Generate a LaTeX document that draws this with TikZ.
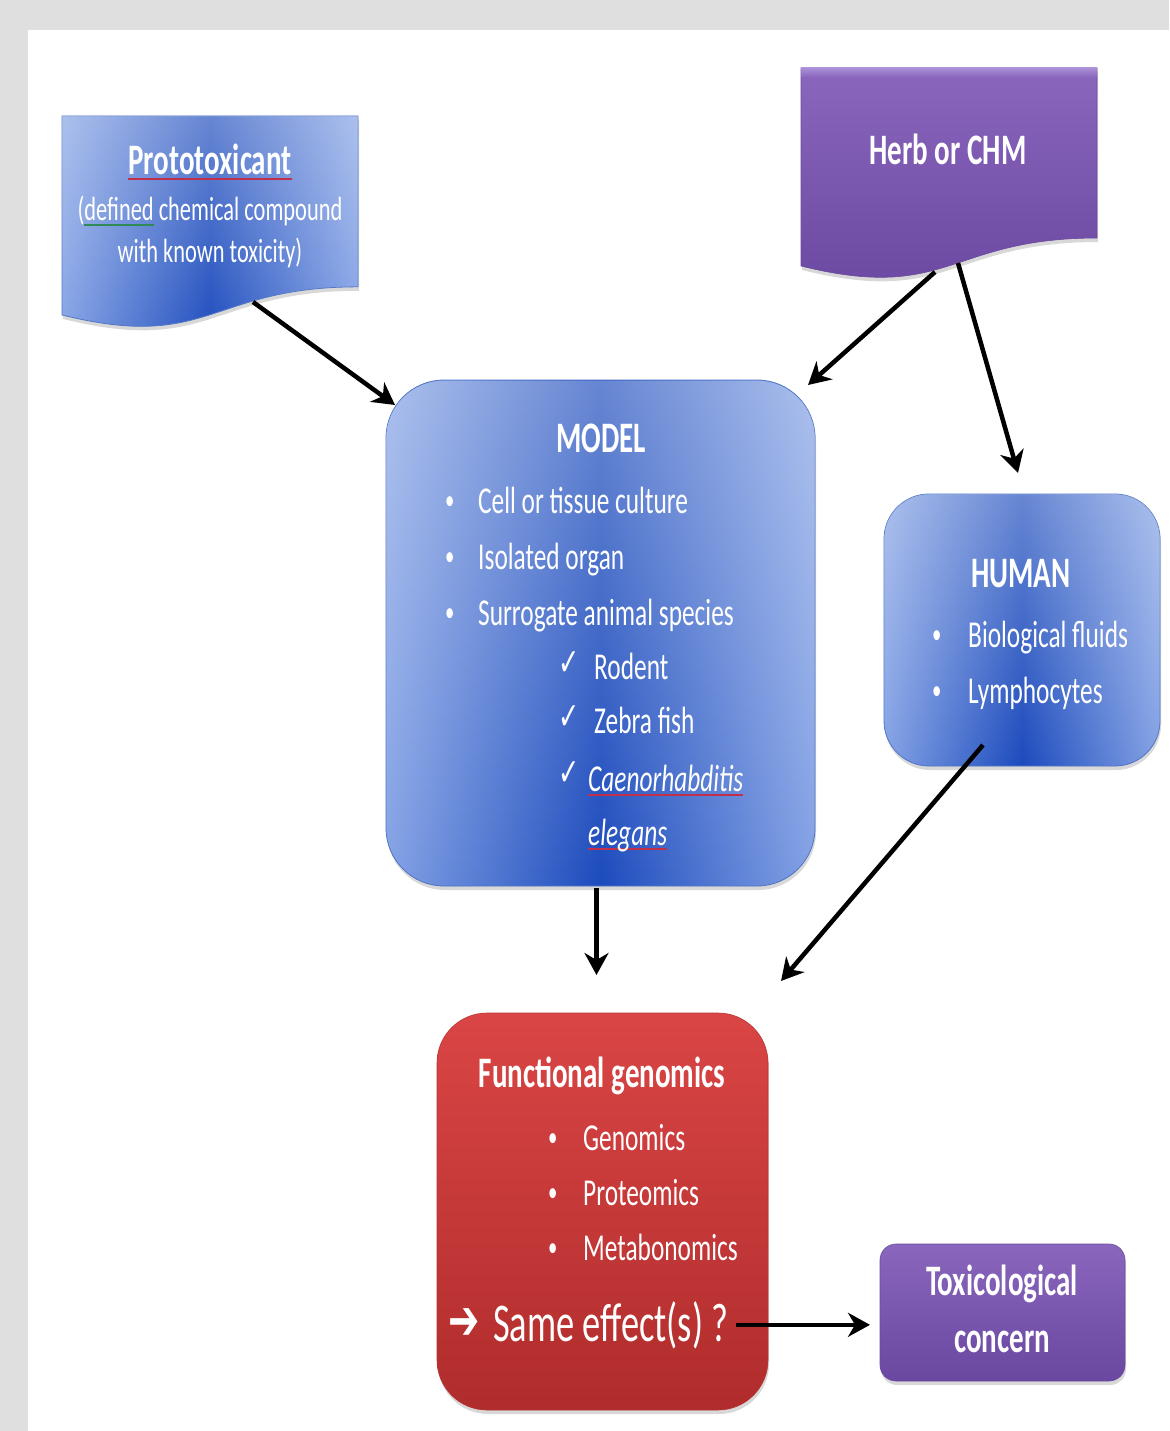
\documentclass[tikz,border=0pt]{standalone}
\usepackage{fontspec}
\setmainfont{Carlito}[FakeStretch=0.667]
\newfontfamily\djv{DejaVu Sans}[FakeStretch=0.667]
\usetikzlibrary{shadows,fadings,calc,arrows.meta}
\definecolor{bgGray}{HTML}{DFDFDF}
\definecolor{bLight}{HTML}{84A2E5}
\definecolor{bDark}{HTML}{1C4BBD}
\definecolor{bEdge}{HTML}{4F74C4}
\definecolor{pTop}{HTML}{8A66BD}
\definecolor{pBot}{HTML}{6A47A0}
\definecolor{pHi}{HTML}{AA8FD6}
\definecolor{pEdge}{HTML}{6B4A9E}
\definecolor{rTop}{HTML}{DA4545}
\definecolor{rBot}{HTML}{B02C2C}
\definecolor{rEdge}{HTML}{B83434}
\definecolor{ulred}{HTML}{C0304A}
\definecolor{ulgreen}{HTML}{2E8B57}
\newcommand\spellul[2]{\setbox0\hbox{#2}\rlap{\textcolor{#1}{\rule[-5pt]{\wd0}{1.6pt}}}\box0\relax}
\newcommand\titlefont{\bfseries\fontsize{43.5}{50}\selectfont}
\newcommand\itemfont{\fontsize{38}{44}\selectfont}
\newcommand\bulfont{\fontsize{28}{30}\selectfont}
\newcommand\subfont{\fontsize{33.6}{40}\selectfont}
\newcommand\bigfont{\fontsize{54.6}{60}\selectfont}
\newcommand\chkfont{\djv\fontsize{38}{38}\selectfont}
\begin{document}
\begin{tikzpicture}[x=1pt,y=-1pt,
  box/.style={inner sep=0pt, outer sep=0pt, anchor=north west},
  shade/.style={drop shadow={shadow xshift=1pt, shadow yshift=-4pt, opacity=0.3}},
  bluefill/.style={shade, left color=bLight, right color=bLight, middle color=bDark, draw=bEdge, line width=0.8pt,
     postaction={fill=white, fill opacity=0.33, path fading=south}},
  purplefill/.style={shade, top color=pTop, bottom color=pBot, draw=pEdge, line width=0.6pt},
  redfill/.style={shade, top color=rTop, bottom color=rBot, draw=rEdge, line width=0.6pt},
  txt/.style={text=white, inner sep=0pt, anchor=base},
  txtl/.style={text=white, inner sep=0pt, anchor=base west},
  arr/.style={line width=4.5pt, -{Stealth[length=22pt, width=24pt, inset=7pt]}}]
\useasboundingbox (0,0) rectangle (1169,1431);
\fill[bgGray] (0,0) rectangle (1169,1431);
\fill[white] (28,30) rectangle (1169,1431);

% box holders
\node[box, minimum width=296pt, minimum height=213pt] (proto) at (62,116) {};
\node[box, minimum width=296pt, minimum height=212pt] (herb) at (801,68) {};

% document shapes
\path[bluefill] (proto.north west) -- (proto.north east)
  -- ($(proto.north east)!0.802!(proto.south east)$)
  .. controls ($(proto.north)!0.802!(proto.south)$) and ($(proto.north)!1.1075!(proto.south)$)
  .. ($(proto.north west)!0.934!(proto.south west)$) -- cycle;
\path[purplefill] (herb.north west) -- (herb.north east)
  -- ($(herb.north east)!0.802!(herb.south east)$)
  .. controls ($(herb.north)!0.802!(herb.south)$) and ($(herb.north)!1.1075!(herb.south)$)
  .. ($(herb.north west)!0.934!(herb.south west)$) -- cycle;
\fill[top color=pHi, bottom color=pTop] (herb.north west) rectangle ($(herb.north east)+(0,9)$);

% rounded boxes
\node[box, bluefill, rounded corners=58pt, minimum width=429pt, minimum height=506pt] (model) at (386,380) {};
\node[box, bluefill, rounded corners=45pt, minimum width=276pt, minimum height=272pt] (human) at (884,494) {};
\node[box, redfill, rounded corners=50pt, minimum width=331pt, minimum height=397pt] (fg) at (437,1013) {};
\node[box, purplefill, rounded corners=16pt, minimum width=245pt, minimum height=137pt] (tox) at (880,1244) {};

% Prototoxicant text
\node[txt, font=\titlefont] (protoT) at (210,175) {\spellul{ulred}{Prototoxicant}};
\node[txt, font=\subfont] (protoS1) at (210,221) {(\spellul{ulgreen}{defined} chemical compound};
\node[txt, font=\subfont] (protoS2) at (210,262) {with known toxicity)};

% Herb text
\node[txt, font=\titlefont] (herbT) at (948,165) {Herb or CHM};

% MODEL text
\node[txt, font=\titlefont] (modelT) at (601,452) {MODEL};
\node[txtl, font=\bulfont] (mb1) at (445,509) {•};
\node[txtl, font=\itemfont] (mi1) at (478,513) {Cell or tissue culture};
\node[txtl, font=\bulfont] (mb2) at (445,565) {•};
\node[txtl, font=\itemfont] (mi2) at (478,569) {Isolated organ};
\node[txtl, font=\bulfont] (mb3) at (445,621) {•};
\node[txtl, font=\itemfont] (mi3) at (478,625) {Surrogate animal species};
\node[txtl, font=\chkfont] (mc1) at (558,675) {✓};
\node[txtl, font=\itemfont] (ms1) at (594,679) {Rodent};
\node[txtl, font=\chkfont] (mc2) at (558,729) {✓};
\node[txtl, font=\itemfont] (ms2) at (594,733) {Zebra fish};
\node[txtl, font=\chkfont] (mc3) at (558,785) {✓};
\node[txtl, font=\itemfont] (ms3) at (588,791) {\itshape\spellul{ulred}{Caenorhabditis}};
\node[txtl, font=\itemfont] (ms4) at (588,845) {\itshape\spellul{ulred}{elegans}};

% HUMAN text
\node[txt, font=\titlefont] (humanT) at (1021,587) {HUMAN};
\node[txtl, font=\bulfont] (hb1) at (932,643) {•};
\node[txtl, font=\itemfont] (hi1) at (968,647) {Biological fluids};
\node[txtl, font=\bulfont] (hb2) at (932,699) {•};
\node[txtl, font=\itemfont] (hi2) at (968,703) {Lymphocytes};

% Functional genomics text
\node[txt, font=\titlefont] (fgT) at (602,1087) {Functional genomics};
\node[txtl, font=\bulfont] (fb1) at (548,1146) {•};
\node[txtl, font=\itemfont] (fi1) at (583,1150) {Genomics};
\node[txtl, font=\bulfont] (fb2) at (548,1201) {•};
\node[txtl, font=\itemfont] (fi2) at (583,1205) {Proteomics};
\node[txtl, font=\bulfont] (fb3) at (548,1256) {•};
\node[txtl, font=\itemfont] (fi3) at (583,1260) {Metabonomics};
\node[txtl, font=\djv\bfseries\fontsize{56}{56}\selectfont] (sameA) at (448,1339) {➔};
\node[txtl, font=\bigfont] (same) at (493,1341) {Same effect(s) ?};

% Toxicological concern text
\node[txt, font=\titlefont] (toxT1) at (1002,1295) {Toxicological};
\node[txt, font=\titlefont] (toxT2) at (1002,1352) {concern};

% connectors
\draw[arr] ($(proto.south)+(43,-27)$) -- ($(model.north west)+(9,25)$);
\draw[arr] ($(herb.south)+(-14,-8)$) -- ($(model.north east)+(-7,5)$);
\draw[arr] ($(herb.south)+(9,-17)$) -- ($(human.north)+(-4,-21)$);
\draw[arr] ($(model.south)+(-4,2)$) -- ($(fg.north)+(-6,-38)$);
\draw[arr] ($(human.south)+(-39,-21)$) -- ($(fg.north east)+(13,-32)$);
\draw[arr] ($(same.east)+(8,0)$) -- ($(same.east -| tox.west)+(-10,0)$);
\end{tikzpicture}
\end{document}
